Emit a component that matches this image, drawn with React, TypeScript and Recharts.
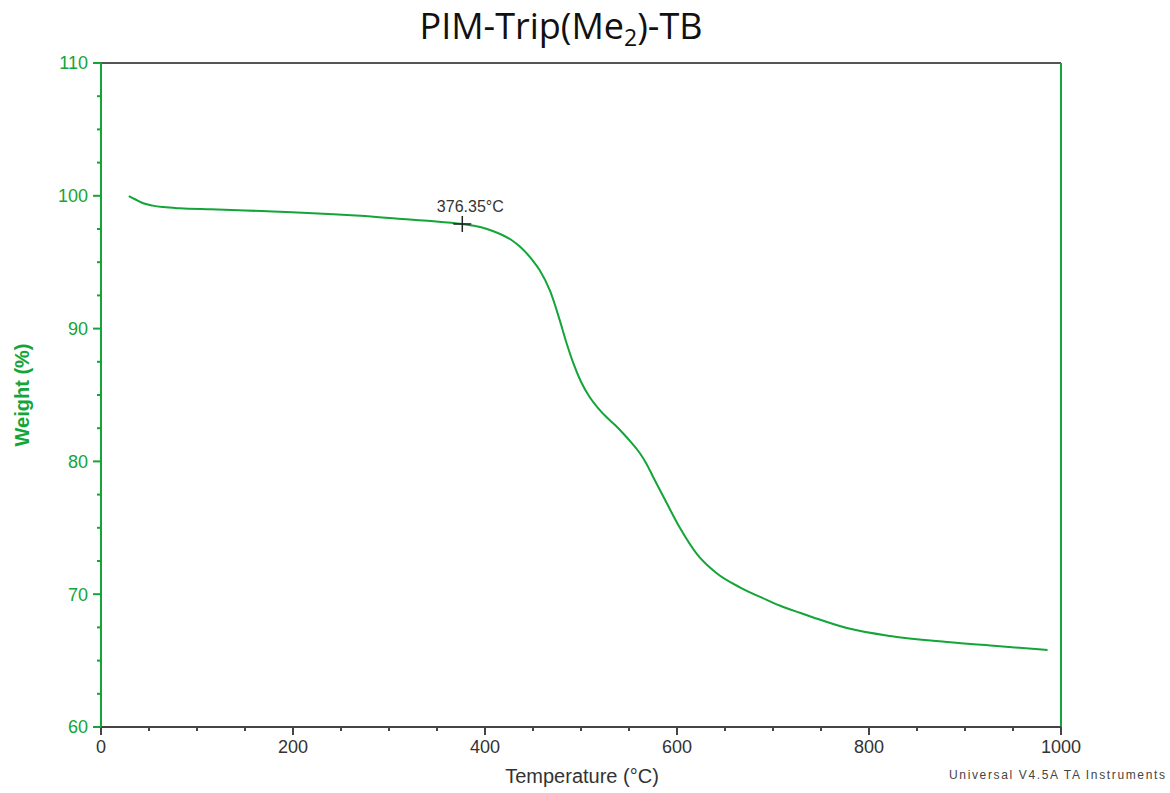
import React from 'react';
import { LineChart, Line, XAxis, YAxis, ReferenceLine, ReferenceDot, Customized } from 'recharts';

// TGA trace
const temperature = [
  29, 36, 44, 54, 65, 82, 114, 150, 179, 210, 242, 275, 304, 340, 376, 395, 408, 418, 429, 436,
  443, 450, 457, 468, 478, 485, 492, 500, 509, 518, 527, 536, 544, 552, 561, 568, 575, 589, 603,
  621, 641, 666, 694, 707, 728, 742, 777, 822, 881, 933, 986,
];
const weight = [
  99.98, 99.72, 99.44, 99.26, 99.15, 99.06, 98.98, 98.9, 98.81, 98.72, 98.61, 98.47, 98.31, 98.12,
  97.88, 97.65, 97.35, 97.05, 96.6, 96.2, 95.7, 95.1, 94.4, 92.8, 90.6, 88.9, 87.4, 86.0, 84.85,
  84.0, 83.3, 82.7, 82.1, 81.45, 80.65, 79.85, 78.85, 76.9, 75.0, 73.0, 71.6, 70.5, 69.56, 69.15,
  68.6, 68.25, 67.45, 66.85, 66.4, 66.1, 65.8,
];

const xTicks = [0, 50, 100, 150, 200, 250, 300, 350, 400, 450, 500, 550, 600, 650, 700, 750, 800, 850, 900, 950, 1000];
const yTicks = [60, 62.5, 65, 67.5, 70, 72.5, 75, 77.5, 80, 82.5, 85, 87.5, 90, 92.5, 95, 97.5, 100, 102.5, 105, 107.5, 110];

const onset = { t: 376.35, w: 97.88, label: '376.35°C' };

const GREEN = '#13a538';
const GREY = '#333';

const rows = temperature.map((t, i) => ({ t, w: weight[i] }));

const XTick = (props: any) => {
  const { x, y, payload } = props;
  const major = payload.value % 200 === 0;
  return (
    <g>
      <line x1={x} x2={x} y1={y} y2={y + (major ? 8 : 4)} stroke="#444" strokeWidth={2} />
      {major && (
        <text x={x} y={y + 26} textAnchor="middle" fontSize={18} fill={GREY} fontFamily="Liberation Sans, Arial">
          {payload.value}
        </text>
      )}
    </g>
  );
};

const YTick = (props: any) => {
  const { x, y, payload } = props;
  const major = payload.value % 10 === 0;
  return (
    <g>
      <line x1={x} x2={x - (major ? 8 : 4)} y1={y} y2={y} stroke={GREEN} strokeWidth={2} />
      {major && (
        <text x={x - 13} y={y} dy="0.36em" textAnchor="end" fontSize={18} fill={GREEN} fontFamily="Liberation Sans, Arial">
          {payload.value}
        </text>
      )}
    </g>
  );
};

const Cross = (props: any) => {
  const { cx, cy } = props;
  return (
    <g>
      <line x1={cx - 9} x2={cx + 9} y1={cy} y2={cy} stroke="#222" strokeWidth={1.5} />
      <line x1={cx} x2={cx} y1={cy - 8} y2={cy + 8} stroke="#222" strokeWidth={1.5} />
      <text x={cx + 8} y={cy - 12} textAnchor="middle" fontSize={16} fill={GREY} fontFamily="Liberation Sans, Arial">
        {onset.label}
      </text>
    </g>
  );
};

const Texts = () => (
  <g fontFamily="Liberation Sans, Arial">
    <text x={561} y={39} textAnchor="middle" fontSize={36} fill="#111" fontFamily="Open Sans, sans-serif">
      PIM-Trip(Me<tspan fontSize={23} dy={7}>2</tspan>
      <tspan dy={-7}>)-TB</tspan>
    </text>
    <text x={582} y={783} textAnchor="middle" fontSize={20} fill={GREY}>
      Temperature (°C)
    </text>
    <text
      x={22}
      y={395}
      textAnchor="middle"
      fontSize={20}
      fontWeight="bold"
      fill={GREEN}
      transform="rotate(-90 22 395)"
      dy="0.35em"
    >
      Weight (%)
    </text>
    <text x={949} y={779} fontSize={12} fill="#444" textLength={216} lengthAdjust="spacing">
      Universal V4.5A TA Instruments
    </text>
  </g>
);

export default function App() {
  return (
    <div style={{ position: 'absolute', left: 0, top: 0, width: 1170, height: 793, background: '#fff' }}>
      <LineChart width={1170} height={793} data={rows} margin={{ top: 63, right: 109, bottom: 0, left: 0 }}>
        <XAxis
          dataKey="t"
          type="number"
          domain={[0, 1000]}
          ticks={xTicks}
          interval={0}
          height={66}
          tickSize={0}
          tickMargin={0}
          tickLine={false}
          axisLine={{ stroke: '#444', strokeWidth: 2 }}
          tick={<XTick />}
        />
        <YAxis
          type="number"
          domain={[60, 110]}
          ticks={yTicks}
          interval={0}
          width={101}
          tickSize={0}
          tickMargin={0}
          tickLine={false}
          axisLine={{ stroke: GREEN, strokeWidth: 2 }}
          tick={<YTick />}
        />
        <ReferenceLine y={110} stroke="#555" strokeWidth={2} />
        <ReferenceLine x={1000} stroke={GREEN} strokeWidth={2} />
        <Line
          dataKey="w"
          type="monotone"
          stroke={GREEN}
          strokeWidth={2}
          dot={false}
          isAnimationActive={false}
        />
        <ReferenceDot x={onset.t} y={onset.w} shape={<Cross />} />
        <Customized component={Texts} />
      </LineChart>
    </div>
  );
}
